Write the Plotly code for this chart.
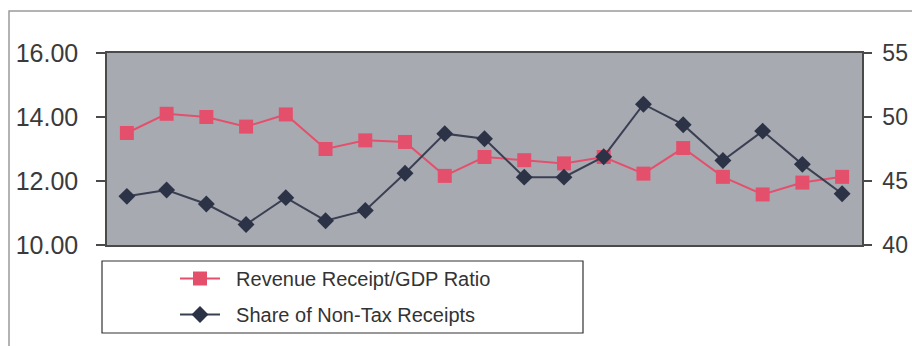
import plotly.graph_objects as go

periods = list(range(1, 20))
revenue_gdp = [13.50, 14.10, 14.00, 13.70, 14.08, 13.00, 13.27, 13.22, 12.16, 12.75,
               12.65, 12.55, 12.75, 12.23, 13.03, 12.13, 11.58, 11.95, 12.13]
non_tax_share = [43.8, 44.3, 43.2, 41.6, 43.7, 41.9, 42.7, 45.6, 48.7, 48.3,
                 45.3, 45.3, 46.9, 51.0, 49.4, 46.6, 48.9, 46.3, 44.0]
left_ticks = [10, 12, 14, 16]
right_ticks = [40, 45, 50, 55]

PINK = "#e4506c"
DARK = "#2d3347"
FONT = "Liberation Sans"
NB = "\u00a0\u00a0"

fig = go.Figure()
fig.add_trace(go.Scatter(
    x=periods, y=revenue_gdp, name=NB + "Revenue Receipt/GDP Ratio",
    mode="lines+markers", legendgroup="a",
    line=dict(color=PINK, width=2),
    marker=dict(symbol="square", size=14, color=PINK),
))
fig.add_trace(go.Scatter(
    x=periods, y=non_tax_share, name=NB + "Share of Non-Tax Receipts",
    mode="lines+markers", yaxis="y2", legendgroup="b",
    line=dict(color="#3a3f52", width=2),
    marker=dict(symbol="diamond", size=13, color=DARK),
))

W, H = 912, 346
L, R, T, B = 107, 50, 53, 101
pw, ph = W - L - R, H - T - B

def px(x):
    return (x - L) / pw

def py(y):
    return (H - B - y) / ph

fig.update_layout(
    width=W, height=H,
    margin=dict(l=L, r=R, t=T, b=B, autoexpand=False),
    paper_bgcolor="white",
    plot_bgcolor="#a8aab2",
    font=dict(family=FONT, color="#3a3a3a"),
    showlegend=True,
    legend=dict(
        x=px(175), y=py(259), xanchor="left", yanchor="top",
        bgcolor="rgba(0,0,0,0)", borderwidth=0,
        font=dict(size=20, color="#333333", family=FONT),
        tracegroupgap=7, itemwidth=40,
    ),
    xaxis=dict(
        range=[0.5, 19.5], showgrid=False, zeroline=False,
        showticklabels=False, ticks="", automargin=False,
        showline=True, linecolor="#4a4a4a", linewidth=1.5, mirror=True,
    ),
    yaxis=dict(
        range=[10, 16], tickvals=left_ticks, tickformat=".2f",
        showgrid=False, zeroline=False, automargin=False,
        ticks="outside", ticklen=9, tickcolor="#4a4a4a", tickwidth=1.5,
        showline=True, linecolor="#4a4a4a", linewidth=1.5,
        tickfont=dict(size=25, color="#3a3a3a", family=FONT),
        ticklabelstandoff=13,
    ),
    yaxis2=dict(
        range=[40, 55], tickvals=right_ticks, tickformat="d",
        overlaying="y", side="right", automargin=False,
        showgrid=False, zeroline=False,
        ticks="outside", ticklen=8, tickcolor="#4a4a4a", tickwidth=1.5,
        showline=True, linecolor="#4a4a4a", linewidth=1.5,
        tickfont=dict(size=23, color="#3a3a3a", family=FONT),
        ticklabelstandoff=6,
    ),
    shapes=[
        dict(type="rect", xref="paper", yref="paper",
             x0=px(9), x1=px(1000), y0=py(400), y1=py(11),
             line=dict(color="#9a9a9a", width=1.5), fillcolor="rgba(0,0,0,0)", layer="below"),
        dict(type="rect", xref="paper", yref="paper",
             x0=px(102), x1=px(583), y0=py(333), y1=py(261),
             line=dict(color="#333333", width=1.2), fillcolor="rgba(0,0,0,0)"),
    ],
)

fig.write_html("out.html")
